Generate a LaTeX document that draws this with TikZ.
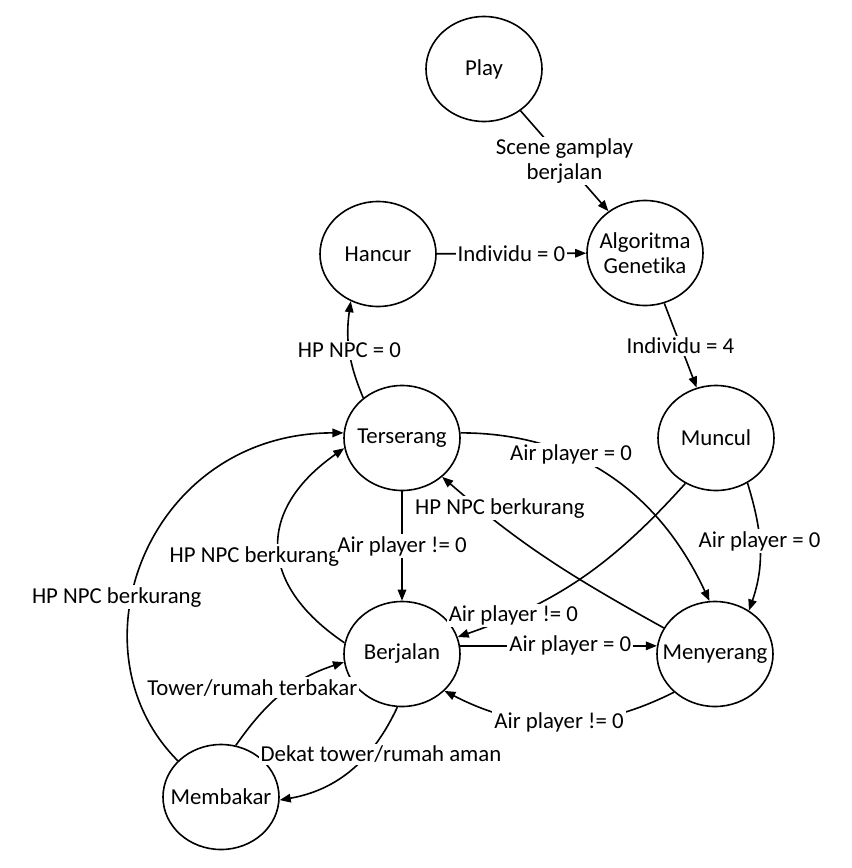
\documentclass[tikz,border=0pt]{standalone}
\usepackage{fontspec}
\setmainfont{Carlito}[Ligatures={NoCommon}]
\usetikzlibrary{arrows.meta}
\usetikzlibrary{shapes.geometric}
\tikzset{
        statenode/.style={align=center},
        % States of the NPC
        node_state/.style={statenode, ellipse, draw=black, fill=white, minimum width=116bp, minimum height=105bp, inner xsep=-20bp, inner ysep=0pt},
        % Conditions on the transitions
        node_trans/.style={statenode, fill=white, inner sep=2bp}
}

\begin{document}
\begin{tikzpicture}[
            ->, >={Triangle[length=11bp,width=8.5bp]},
            x=1bp, y=1bp,
            line width=1.6bp,
            font=\fontsize{22.8bp}{24.5bp}\selectfont
        ]
            \useasboundingbox (0,0) rectangle (852,-868);
            \node[node_state] (play) at (484,-69) {Play};
            \node[node_state] (algo) at (645,-253) {Algoritma\\Genetika};
            \node[node_state] (hancur) at (378,-254) {Hancur};
            \node[node_state] (terserang) at (402,-438) {Terserang};
            \node[node_state] (muncul) at (716,-438) {Muncul};
            \node[node_state] (berjalan) at (402,-654) {Berjalan};
            \node[node_state] (menyerang) at (715,-654) {Menyerang};
            \node[node_state] (membakar) at (221,-797) {Membakar};

            \draw (play) -- node[node_trans] {Scene gamplay\\berjalan} (algo);
            \draw (hancur) -- node[node_trans] {Individu = 0} (algo);
            \draw (algo) -- node[node_trans] {Individu = 4} (muncul);
            \draw (terserang.134) to[out=113, in=262] node[node_trans] {HP NPC = 0} (hancur.240);
            \draw (berjalan.169) to[out=146, in=215, looseness=1.4] node[node_trans, pos=0.45, xshift=-25bp] {HP NPC berkurang} (terserang.190);
            \draw (terserang) -- node[node_trans] {Air player != 0} (berjalan);
            \draw (terserang.5) to[out=0, in=115] node[node_trans, pos=0.35] {Air player = 0} (menyerang.96);
            \draw (menyerang.153) to[out=151, in=319] node[node_trans, pos=0.8, xshift=13bp, yshift=6bp] {HP NPC berkurang} (terserang.316);
            \draw (muncul.236) to[out=228, in=19] node[node_trans, pos=0.8] {Air player != 0} (berjalan.17);
            \draw (muncul.305) to[out=287, in=71] node[node_trans, pos=0.45] {Air player = 0} (menyerang.52);
            \draw (berjalan.8) -- node[node_trans, pos=0.56] {Air player = 0} (menyerang.172);
            \draw (menyerang.223) to[bend left=27] node[node_trans] {Air player != 0} (berjalan.319);
            \draw (membakar.140) to[out=135, in=180, out looseness=1.1, in looseness=1.36] node[node_trans, pos=0.4, xshift=-15bp] {HP NPC berkurang} (terserang.175);
            \draw (membakar.74) to[out=55, in=198] node[node_trans, xshift=-30bp, yshift=6bp] {Tower/rumah terbakar} (berjalan.188);
            \draw (berjalan.265) to[out=245, in=10] node[node_trans, pos=0.35, xshift=14bp] {Dekat tower/rumah aman} (membakar.357);
\end{tikzpicture}
\end{document}
